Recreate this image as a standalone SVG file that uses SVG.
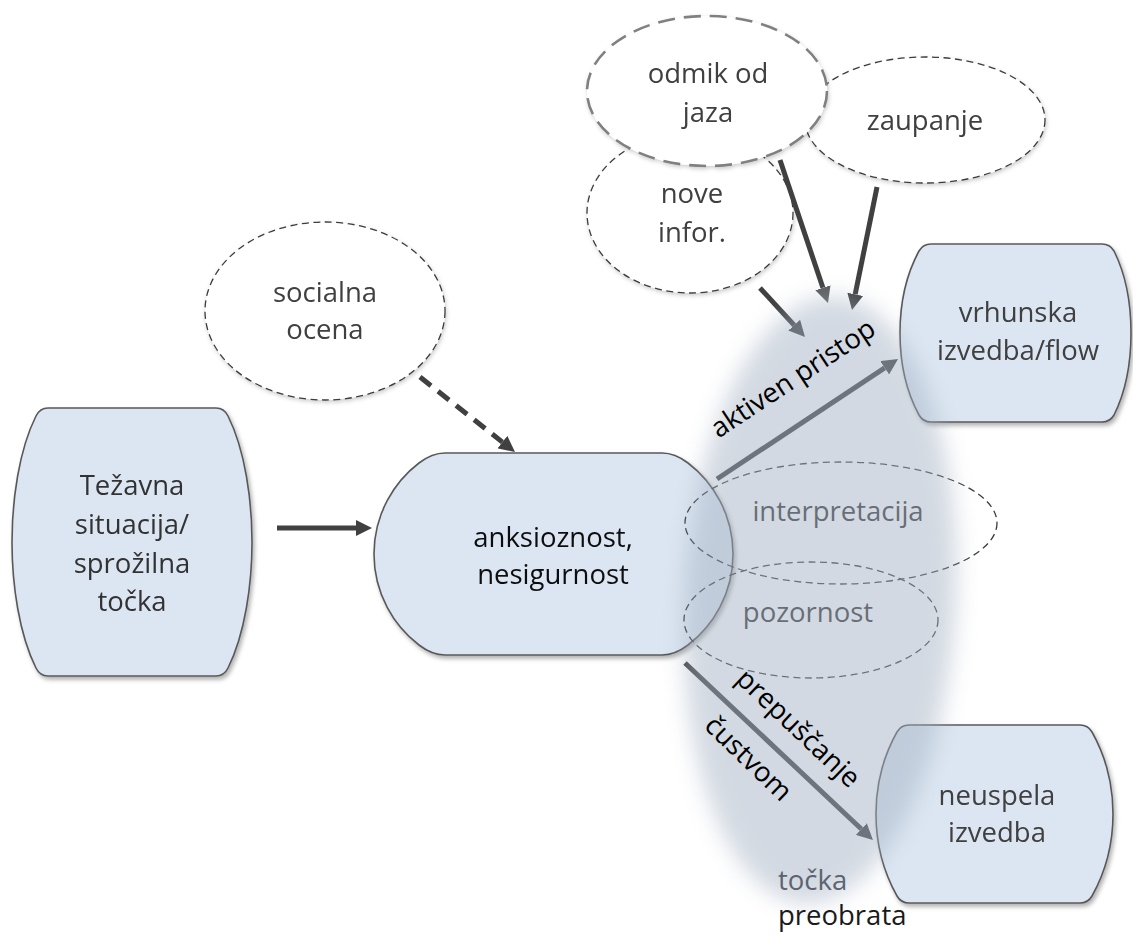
<svg xmlns="http://www.w3.org/2000/svg" width="1133" height="936" viewBox="0 0 1133 936">
  <defs>
    <filter id="nodeShadow" x="-10%" y="-10%" width="125%" height="125%">
      <feDropShadow dx="2" dy="3" stdDeviation="2" flood-color="#000" flood-opacity="0.3"/>
    </filter>
    <filter id="softShadow" x="-10%" y="-10%" width="125%" height="130%">
      <feDropShadow dx="1" dy="2" stdDeviation="2" flood-color="#000" flood-opacity="0.2"/>
    </filter>
    <filter id="zoneBlur" x="-30%" y="-20%" width="160%" height="140%">
      <feGaussianBlur stdDeviation="11"/>
    </filter>
    <marker id="headDark" markerUnits="userSpaceOnUse" viewBox="0 0 16 16" markerWidth="16" markerHeight="16" refX="0" refY="8" orient="auto">
      <path d="M0,0 L16,8 L0,16 Z" fill="#404040"/>
    </marker>
    <marker id="headMid" markerUnits="userSpaceOnUse" viewBox="0 0 16 16" markerWidth="16" markerHeight="16" refX="0" refY="8" orient="auto">
      <path d="M0,0 L16,8 L0,16 Z" fill="#5a5a5a"/>
    </marker>
    <style>
      text { font-family: "Open Sans", "Noto Sans", "Liberation Sans", sans-serif; font-size: 27.5px; text-anchor: middle; }
      .node path { fill: #dce6f2; stroke: #595959; stroke-width: 1.6; }
      .dash { fill: #fff; stroke: #3c3c3c; stroke-width: 1.3; stroke-dasharray: 7 4.5; }
      .dashBig { fill: #fff; stroke: #808080; stroke-width: 2.6; stroke-dasharray: 17 9; }
      .dashOpen { fill: none; stroke: #3c3c3c; stroke-width: 1.3; stroke-dasharray: 7 4.5; }
      .grey { fill: #404040; }
      .dark { fill: #111; }
      .arrow { fill: none; stroke: #404040; stroke-width: 5; }
      .label { fill: #000; }
    </style>
  </defs>

  <rect width="1133" height="936" fill="#fff"/>

  <!-- source situation -->
  <g id="tezavna-situacija" class="node" filter="url(#nodeShadow)">
    <path d="M48,408 H216 Q224,408 228,416 C245,450 252,500 252,542 C252,584 245,634 228,668 Q224,676 216,676 H48 Q40,676 36,668 C19,634 12,584 12,542 C12,500 19,450 36,416 Q40,408 48,408 Z"/>
    <text x="132" y="495" fill="#333">Težavna</text>
    <text x="132" y="534" fill="#333">situacija/</text>
    <text x="132" y="573" fill="#333">sprožilna</text>
    <text x="132" y="611" fill="#333">točka</text>
  </g>

  <!-- central state -->
  <g id="anksioznost" class="node" filter="url(#nodeShadow)">
    <path d="M445,453 H662 Q675,453 688,463 A114.5,114.5 0 0 1 688,645 Q675,655 662,655 H445 Q432,655 419,645 A114.5,114.5 0 0 1 419,463 Q432,453 445,453 Z"/>
    <text x="553" y="547" class="dark">anksioznost,</text>
    <text x="553" y="584" class="dark">nesigurnost</text>
  </g>

  <!-- positive outcome -->
  <g id="vrhunska-izvedba" class="node" filter="url(#nodeShadow)">
    <path d="M931,244 H1102 Q1110,244 1114,251 C1126,275 1131,305 1131,333 C1131,361 1126,391 1114,415 Q1110,422 1102,422 H931 Q923,422 919,415 C906,391 900,361 900,333 C900,305 906,275 919,251 Q923,244 931,244 Z"/>
    <text x="1018" y="322" class="grey">vrhunska</text>
    <text x="1018" y="360" class="grey">izvedba/flow</text>
  </g>

  <!-- negative outcome -->
  <g id="neuspela-izvedba" class="node" filter="url(#nodeShadow)">
    <path d="M909,725 H1080 Q1088,725 1092,732 C1106,757 1113,786 1113,814 C1113,842 1106,871 1092,896 Q1088,903 1080,903 H909 Q901,903 897,896 C883,871 876,842 876,814 C876,786 883,757 897,732 Q901,725 909,725 Z"/>
    <text x="997" y="805" class="grey">neuspela</text>
    <text x="997" y="842" class="grey">izvedba</text>
  </g>

  <!-- influencing factors -->
  <g id="zaupanje" filter="url(#softShadow)">
    <ellipse cx="925" cy="120" rx="120" ry="63" class="dash"/>
    <text x="925" y="130" class="grey">zaupanje</text>
  </g>
  <g id="nove-infor" filter="url(#softShadow)">
    <ellipse cx="690" cy="213" rx="103" ry="80" class="dash"/>
    <text x="692" y="203" class="grey">nove</text>
    <text x="692" y="242" class="grey">infor.</text>
  </g>
  <g id="odmik-od-jaza" filter="url(#softShadow)">
    <ellipse cx="707" cy="91" rx="120" ry="75" class="dashBig"/>
    <text x="708" y="83" class="grey">odmik od</text>
    <text x="708" y="122" class="grey">jaza</text>
  </g>
  <g id="socialna-ocena" filter="url(#softShadow)">
    <ellipse cx="325" cy="311" rx="120" ry="89" class="dash"/>
    <text x="325" y="302" class="grey">socialna</text>
    <text x="325" y="339" class="grey">ocena</text>
  </g>

  <!-- mediating processes -->
  <g id="interpretacija">
    <ellipse cx="841" cy="523" rx="156" ry="61" class="dashOpen"/>
    <text x="838" y="521" fill="#333">interpretacija</text>
  </g>
  <g id="pozornost">
    <ellipse cx="811" cy="620" rx="127" ry="58" class="dashOpen"/>
    <text x="808" y="622" fill="#333">pozornost</text>
  </g>

  <!-- connectors -->
  <g id="connectors">
    <line x1="277" y1="528" x2="356" y2="528" class="arrow" marker-end="url(#headDark)"/>
    <line x1="420" y1="377" x2="502.4" y2="442.1" class="arrow" stroke-dasharray="14 9" marker-end="url(#headDark)"/>
    <line x1="760" y1="288" x2="794.2" y2="325.2" class="arrow" marker-end="url(#headDark)"/>
    <line x1="780" y1="160" x2="822.9" y2="287.8" class="arrow" stroke="#5a5a5a" stroke-width="4" marker-end="url(#headMid)"/>
    <line x1="877" y1="187" x2="855.2" y2="294.3" class="arrow" stroke-width="4.5" marker-end="url(#headDark)"/>
    <line x1="717" y1="479" x2="884.7" y2="367.8" class="arrow" stroke-width="4" marker-end="url(#headDark)"/>
    <line x1="685" y1="663" x2="861.3" y2="829" class="arrow" marker-end="url(#headDark)"/>
  </g>

  <!-- turning-point zone -->
  <g id="tocka-preobrata">
    <ellipse cx="820" cy="600" rx="136" ry="304" transform="rotate(3 820 600)" fill="#a3b0c2" opacity="0.47" filter="url(#zoneBlur)"/>
    <text x="778" y="890" fill="#5b6470" style="text-anchor:start">točka</text>
    <text x="778" y="925" fill="#1a1a1a" style="text-anchor:start">preobrata</text>
  </g>

  <!-- connector labels -->
  <g id="connector-labels">
    <text class="label" transform="translate(798,386) rotate(-33.5)">aktiven pristop</text>
    <text class="label" transform="translate(792,735) rotate(43.3)">prepuščanje</text>
    <text class="label" transform="translate(742,765) rotate(44)">čustvom</text>
  </g>
</svg>
